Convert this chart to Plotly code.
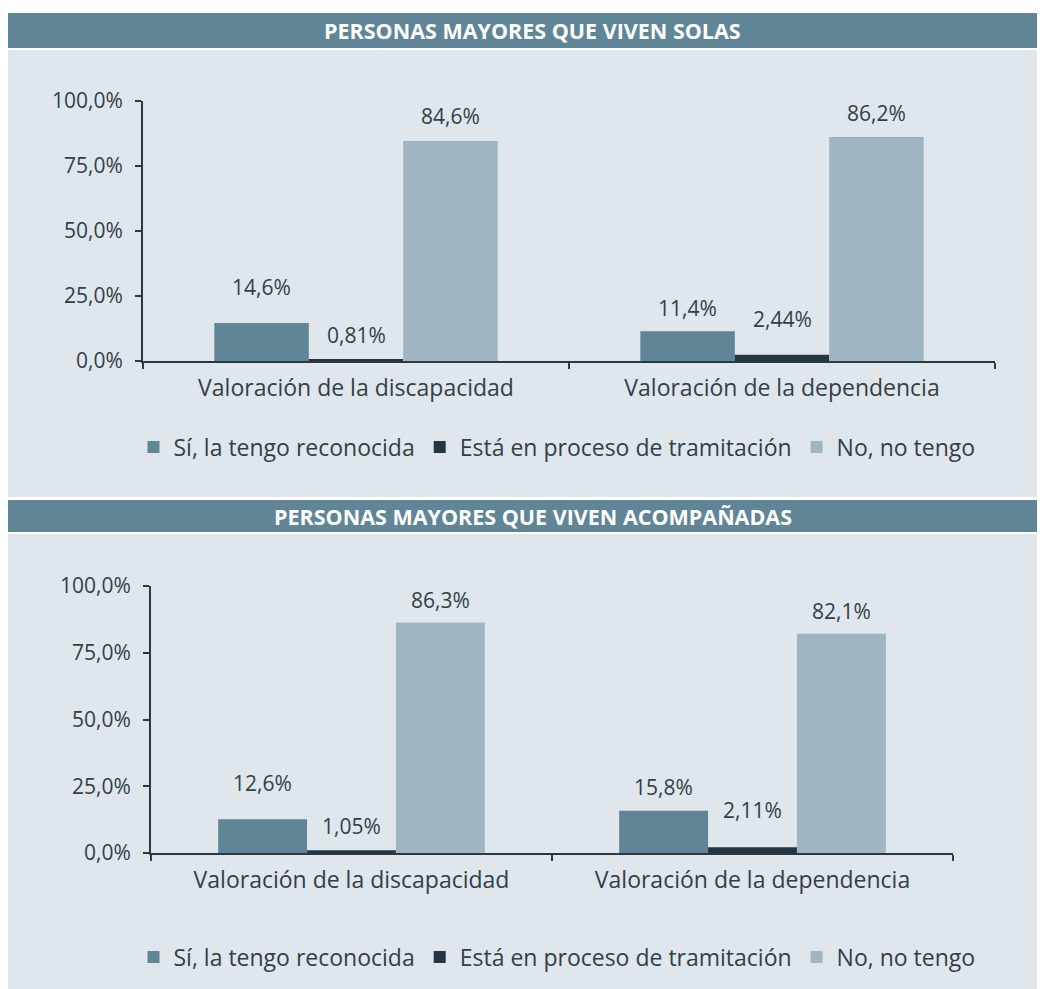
import plotly.graph_objects as go

# ---------------- data ----------------
categories = ["Valoración de la discapacidad", "Valoración de la dependencia"]
series_names = ["Sí, la tengo reconocida", "Está en proceso de tramitación", "No, no tengo"]

solas_reconocida = [14.6, 11.4]
solas_tramitacion = [0.81, 2.44]
solas_no_tengo = [84.6, 86.2]

acomp_reconocida = [12.6, 15.8]
acomp_tramitacion = [1.05, 2.11]
acomp_no_tengo = [86.3, 82.1]

title_solas = "PERSONAS MAYORES QUE VIVEN SOLAS"
title_acomp = "PERSONAS MAYORES QUE VIVEN ACOMPAÑADAS"

y_ticks = [0, 25, 50, 75, 100]
y_tick_labels = ["0,0%", "25,0%", "50,0%", "75,0%", "100,0%"]

# ---------------- style ----------------
OFF = 8                      # page body margin of the html page
W, H = 1045 - OFF, 989 - OFF
FONT = "Open Sans"
TXT = "#333f48"
AXIS = "#2a3a44"
HEADER = "#5f8596"
PANEL = "#dfe6ec"
colors = ["#5f8596", "#263640", "#9fb5c1"]
BARGAP = 0.335
# vertical offsets (px) of value labels above bar ends, per series per category
shift_solas = [[36, 23], [24, 36], [25, 24]]
shift_acomp = [[36, 24], [24, 37], [23, 23]]


def px_x(p):
    return (p - OFF) / W


def px_y(p):
    return 1 - (p - OFF) / H


def fmt(v):
    return f"{v:.3g}".replace(".", ",") + "%"


fig = go.Figure()

panels = [
    dict(data=[solas_reconocida, solas_tramitacion, solas_no_tengo], xa="x", ya="y",
         legend="legend", shifts=shift_solas),
    dict(data=[acomp_reconocida, acomp_tramitacion, acomp_no_tengo], xa="x2", ya="y2",
         legend="legend2", shifts=shift_acomp),
]

annotations = []
w = (1 - BARGAP) / 3
for p in panels:
    for k, (name, vals) in enumerate(zip(series_names, p["data"])):
        fig.add_trace(go.Bar(
            x=categories, y=vals, name=name, marker=dict(color=colors[k], line=dict(width=0)),
            xaxis=p["xa"], yaxis=p["ya"], legend=p["legend"], hoverinfo="skip",
        ))
        for i, v in enumerate(vals):
            annotations.append(dict(
                x=i + (k - 1) * w, y=v, xref=p["xa"], yref=p["ya"], text=fmt(v),
                showarrow=False, yanchor="middle", xanchor="center",
                yshift=p["shifts"][k][i], font=dict(family=FONT, size=21, color=TXT),
            ))

# header titles
for title, ycen in [(title_solas, 30.5), (title_acomp, 516.5)]:
    annotations.append(dict(
        x=px_x(532.5), y=px_y(ycen), xref="paper", yref="paper", text=f"<b>{title}</b>",
        showarrow=False, xanchor="center", yanchor="middle",
        font=dict(family=FONT, size=21.5, color="white"),
    ))

shapes = [
    dict(type="rect", xref="paper", yref="paper", x0=0.0, x1=1.0, y0=px_y(497), y1=px_y(50),
         fillcolor=PANEL, line=dict(width=0), layer="below"),
    dict(type="rect", xref="paper", yref="paper", x0=0.0, x1=1.0, y0=px_y(48), y1=px_y(13),
         fillcolor=HEADER, line=dict(width=0), layer="below"),
    dict(type="rect", xref="paper", yref="paper", x0=0.0, x1=1.0, y0=0.0, y1=px_y(534),
         fillcolor=PANEL, line=dict(width=0), layer="below"),
    dict(type="rect", xref="paper", yref="paper", x0=0.0, x1=1.0, y0=px_y(532), y1=px_y(500),
         fillcolor=HEADER, line=dict(width=0), layer="below"),
]

xaxis_common = dict(
    type="category", showgrid=False, zeroline=False, showline=True, linecolor=AXIS, linewidth=2,
    ticks="outside", tickson="boundaries", ticklen=6, tickwidth=2, tickcolor=AXIS,
    tickfont=dict(family=FONT, size=23, color=TXT), ticklabelstandoff=5, fixedrange=True,
    automargin=False,
)
yaxis_common = dict(
    range=[0, 100], tickmode="array", tickvals=y_ticks, ticktext=y_tick_labels, showgrid=False,
    zeroline=False, showline=True, linecolor=AXIS, linewidth=2, ticks="outside", ticklen=6,
    tickwidth=2, tickcolor=AXIS, tickfont=dict(family=FONT, size=21, color=TXT),
    ticklabelstandoff=8, fixedrange=True, automargin=False,
)

legend_common = dict(
    orientation="h", xanchor="center", yanchor="middle", bgcolor="rgba(0,0,0,0)",
    font=dict(family=FONT, size=23, color=TXT), itemclick=False, itemdoubleclick=False,
)

fig.update_layout(
    width=W, height=H, autosize=False,
    margin=dict(l=0, r=0, t=0, b=0, pad=0, autoexpand=False),
    paper_bgcolor="white", plot_bgcolor="rgba(0,0,0,0)",
    barmode="group", bargap=BARGAP, bargroupgap=0,
    font=dict(family=FONT, size=21, color=TXT),
    xaxis=dict(domain=[px_x(143), px_x(995)], anchor="y", **xaxis_common),
    yaxis=dict(domain=[px_y(361), px_y(101)], anchor="x", **yaxis_common),
    xaxis2=dict(domain=[px_x(151), px_x(953)], anchor="y2", **xaxis_common),
    yaxis2=dict(domain=[px_y(853), px_y(586)], anchor="x2", **yaxis_common),
    legend=dict(x=px_x(557), y=px_y(447), **legend_common),
    legend2=dict(x=px_x(557), y=px_y(957), **legend_common),
    annotations=annotations,
    shapes=shapes,
    hovermode=False,
)

fig.write_html("out.html")
